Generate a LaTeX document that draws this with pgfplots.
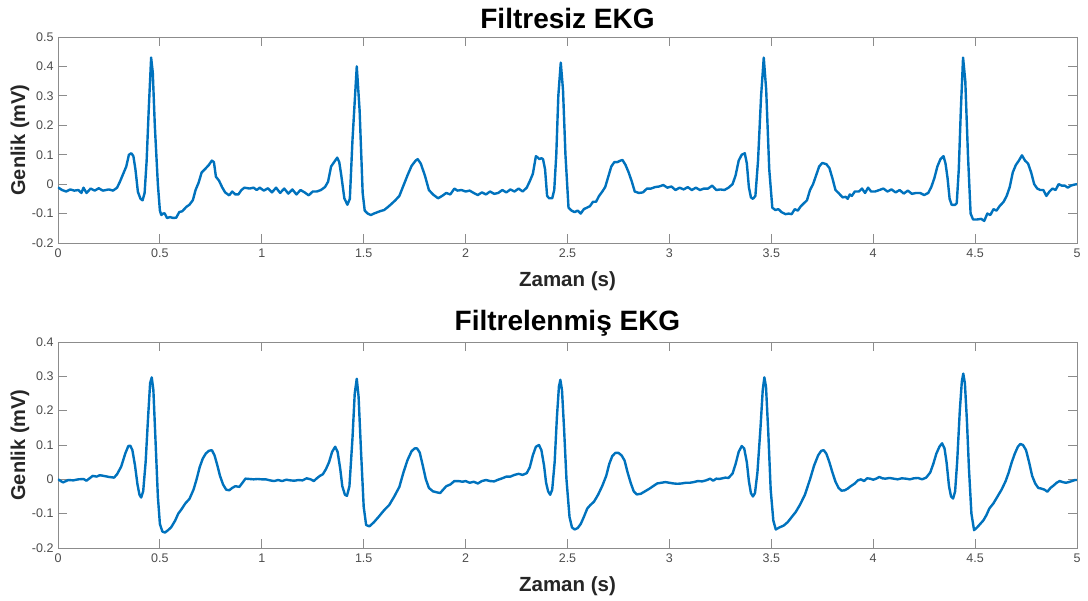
\documentclass[border=0pt]{standalone}
\usepackage{pgfplots}
\pgfplotsset{compat=1.18}
\usepackage{fontspec}
\setmainfont{Liberation Sans}
\definecolor{mblue}{rgb}{0,0.447,0.741}
\definecolor{axgray}{gray}{0.55}
\definecolor{tkgray}{gray}{0.3}
\definecolor{lbgray}{gray}{0.15}
\begin{document}
\begin{tikzpicture}[x=1pt,y=1pt]
\pgfplotsset{ekg/.style={
  scale only axis, width=1019pt, height=206pt,
  xmin=0, xmax=5,
  xtick={0,0.5,1,1.5,2,2.5,3,3.5,4,4.5,5},
  xticklabels={0,0.5,1,1.5,2,2.5,3,3.5,4,4.5,5},
  tick align=inside, major tick length=9pt,
  axis line style={axgray, line width=0.8pt},
  every tick/.style={axgray, line width=0.8pt},
  tick label style={font=\fontsize{12.5}{12.5}\selectfont, text=tkgray},
  xticklabel style={yshift=-2pt},
  yticklabel style={xshift=-1pt},
  xlabel={\fontsize{20.5}{22}\selectfont\bfseries Zaman (s)},
  ylabel={\fontsize{20}{22}\selectfont\bfseries Genlik (mV)},
  xlabel style={at={(axis description cs:0.5,0)}, anchor=center, yshift=-38pt, text=lbgray},
  ylabel style={at={(axis description cs:0,0.5)}, anchor=center, yshift=38pt, text=lbgray},
  title style={font=\fontsize{28}{30}\selectfont\bfseries, at={(axis description cs:0.5,1)}, anchor=center, yshift=13pt},
}}
\begin{axis}[ekg, at={(58pt,-243pt)}, anchor=south west,
  title={Filtresiz EKG},
  ymin=-0.2, ymax=0.5,
  ytick={-0.2,-0.1,0,0.1,0.2,0.3,0.4,0.5},
  yticklabels={-0.2,-0.1,0,0.1,0.2,0.3,0.4,0.5}]
\addplot[mblue, line width=2.4pt, line join=round, no markers] table {
0 -0.011
0.02 -0.02
0.04 -0.025
0.06 -0.018
0.08 -0.022
0.10 -0.02
0.115 -0.03
0.125 -0.012
0.14 -0.03
0.16 -0.015
0.18 -0.022
0.2 -0.014
0.22 -0.022
0.25 -0.018
0.27 -0.022
0.29 -0.012
0.305 0.01
0.32 0.035
0.335 0.06
0.348 0.1
0.36 0.105
0.37 0.095
0.38 0.05
0.392 -0.026
0.405 -0.05
0.415 -0.055
0.425 -0.03
0.435 0.08
0.445 0.25
0.457 0.43
0.465 0.38
0.475 0.2
0.49 0.0
0.5 -0.09
0.507 -0.105
0.515 -0.1
0.523 -0.099
0.535 -0.115
0.55 -0.112
0.565 -0.115
0.58 -0.114
0.595 -0.095
0.61 -0.092
0.63 -0.077
0.645 -0.07
0.662 -0.054
0.675 -0.02
0.69 0.005
0.705 0.04
0.72 0.05
0.74 0.065
0.755 0.08
0.765 0.075
0.775 0.025
0.79 0.012
0.805 -0.01
0.82 -0.028
0.84 -0.038
0.855 -0.025
0.87 -0.035
0.885 -0.035
0.9 -0.02
0.915 -0.012
0.94 -0.015
0.96 -0.012
0.975 -0.02
0.99 -0.012
1.01 -0.022
1.03 -0.014
1.05 -0.028
1.07 -0.012
1.09 -0.03
1.11 -0.015
1.13 -0.032
1.15 -0.018
1.17 -0.035
1.19 -0.02
1.21 -0.028
1.23 -0.038
1.25 -0.025
1.27 -0.025
1.29 -0.02
1.31 -0.01
1.325 0.008
1.34 0.06
1.355 0.075
1.37 0.09
1.38 0.075
1.39 0.03
1.405 -0.048
1.42 -0.07
1.432 -0.05
1.445 0.15
1.466 0.40
1.48 0.25
1.495 -0.03
1.505 -0.09
1.52 -0.1
1.535 -0.105
1.55 -0.1
1.565 -0.096
1.58 -0.092
1.6 -0.088
1.615 -0.08
1.635 -0.068
1.655 -0.055
1.675 -0.04
1.695 -0.005
1.715 0.03
1.735 0.062
1.755 0.08
1.765 0.085
1.78 0.07
1.8 0.03
1.82 -0.02
1.84 -0.035
1.865 -0.048
1.885 -0.04
1.905 -0.03
1.925 -0.035
1.945 -0.015
1.96 -0.022
1.98 -0.02
2.0 -0.025
2.02 -0.022
2.04 -0.03
2.06 -0.037
2.08 -0.028
2.1 -0.035
2.12 -0.025
2.14 -0.033
2.16 -0.03
2.18 -0.02
2.2 -0.028
2.22 -0.018
2.24 -0.025
2.26 -0.015
2.28 -0.025
2.3 -0.012
2.315 0.01
2.33 0.035
2.345 0.095
2.355 0.09
2.362 0.085
2.372 0.088
2.38 0.085
2.39 0.05
2.4 -0.04
2.41 -0.048
2.425 -0.048
2.435 -0.02
2.445 0.1
2.455 0.3
2.467 0.413
2.478 0.32
2.49 0.1
2.505 -0.08
2.52 -0.09
2.535 -0.095
2.55 -0.09
2.565 -0.1
2.58 -0.085
2.595 -0.08
2.61 -0.075
2.625 -0.06
2.64 -0.06
2.655 -0.04
2.67 -0.026
2.685 -0.01
2.7 0.025
2.715 0.06
2.73 0.075
2.745 0.075
2.76 0.08
2.77 0.082
2.785 0.065
2.8 0.04
2.815 0.01
2.83 -0.025
2.85 -0.03
2.87 -0.028
2.89 -0.015
2.91 -0.015
2.93 -0.01
2.95 -0.008
2.97 -0.003
2.99 -0.012
3.01 -0.008
3.03 -0.02
3.05 -0.012
3.07 -0.018
3.09 -0.01
3.11 -0.02
3.13 -0.012
3.15 -0.02
3.17 -0.015
3.19 -0.015
3.21 -0.005
3.23 -0.02
3.25 -0.018
3.27 -0.02
3.29 -0.012
3.31 0.0
3.325 0.03
3.34 0.08
3.355 0.1
3.37 0.105
3.38 0.07
3.39 -0.01
3.4 -0.045
3.41 -0.05
3.422 -0.04
3.435 0.08
3.45 0.3
3.463 0.43
3.475 0.32
3.49 0.05
3.505 -0.08
3.52 -0.088
3.535 -0.085
3.55 -0.095
3.57 -0.102
3.585 -0.1
3.6 -0.102
3.615 -0.085
3.63 -0.09
3.645 -0.075
3.66 -0.065
3.675 -0.055
3.69 -0.02
3.705 0.0
3.72 0.03
3.735 0.06
3.75 0.072
3.77 0.068
3.785 0.055
3.8 0.02
3.815 -0.02
3.83 -0.03
3.85 -0.045
3.865 -0.043
3.875 -0.05
3.885 -0.035
3.895 -0.04
3.91 -0.025
3.93 -0.025
3.945 -0.015
3.96 -0.03
3.975 -0.012
3.99 -0.025
4.01 -0.025
4.03 -0.02
4.05 -0.015
4.07 -0.025
4.09 -0.018
4.11 -0.028
4.13 -0.02
4.15 -0.032
4.17 -0.022
4.19 -0.033
4.21 -0.03
4.23 -0.03
4.25 -0.037
4.27 -0.03
4.285 -0.01
4.3 0.02
4.315 0.06
4.33 0.085
4.345 0.095
4.355 0.07
4.365 0.02
4.375 -0.05
4.385 -0.07
4.4 -0.071
4.41 -0.065
4.42 0.05
4.43 0.25
4.441 0.43
4.452 0.35
4.465 0.1
4.478 -0.1
4.49 -0.12
4.51 -0.12
4.53 -0.118
4.545 -0.125
4.56 -0.1
4.575 -0.105
4.59 -0.085
4.605 -0.09
4.62 -0.075
4.64 -0.06
4.655 -0.04
4.67 -0.01
4.685 0.04
4.7 0.065
4.715 0.08
4.73 0.098
4.745 0.08
4.76 0.07
4.775 0.04
4.79 0.0
4.805 -0.015
4.82 -0.02
4.835 -0.02
4.85 -0.04
4.865 -0.025
4.88 -0.015
4.895 -0.02
4.91 0.0
4.925 -0.005
4.94 -0.005
4.955 -0.012
4.97 -0.005
4.985 -0.002
5.0 0.0
};
\end{axis}
\begin{axis}[ekg, at={(58pt,-548pt)}, anchor=south west,
  title={Filtrelenmiş EKG},
  ymin=-0.2, ymax=0.4,
  ytick={-0.2,-0.1,0,0.1,0.2,0.3,0.4},
  yticklabels={-0.2,-0.1,0,0.1,0.2,0.3,0.4}]
\addplot[mblue, line width=2.4pt, line join=round, no markers] table {
0 0
0.025 -0.009
0.05 -0.002
0.075 -0.003
0.1 0.0
0.125 0.001
0.14 -0.004
0.155 0.003
0.17 0.01
0.19 0.008
0.205 0.012
0.225 0.01
0.25 0.007
0.275 0.005
0.29 0.015
0.31 0.037
0.33 0.075
0.345 0.097
0.355 0.098
0.365 0.085
0.378 0.04
0.39 -0.015
0.4 -0.045
0.408 -0.053
0.418 -0.035
0.43 0.05
0.442 0.18
0.452 0.28
0.46 0.297
0.468 0.26
0.478 0.12
0.49 -0.05
0.5 -0.13
0.512 -0.152
0.525 -0.155
0.54 -0.148
0.555 -0.14
0.575 -0.12
0.59 -0.1
0.605 -0.088
0.625 -0.07
0.645 -0.057
0.665 -0.03
0.68 0.0
0.695 0.035
0.71 0.06
0.725 0.075
0.74 0.083
0.755 0.085
0.768 0.07
0.78 0.045
0.795 0.01
0.81 -0.015
0.825 -0.03
0.84 -0.032
0.855 -0.025
0.87 -0.02
0.89 -0.022
0.905 -0.01
0.92 0.002
0.94 0.001
0.96 0.0
0.98 0.001
1.0 0.0
1.02 0.0
1.04 -0.003
1.06 -0.005
1.08 -0.002
1.1 -0.005
1.12 -0.001
1.14 -0.003
1.16 -0.004
1.18 -0.002
1.2 -0.003
1.22 0.003
1.24 0.0
1.255 -0.005
1.27 0.003
1.285 0.01
1.3 0.015
1.315 0.03
1.33 0.05
1.345 0.08
1.36 0.095
1.372 0.08
1.385 0.03
1.395 -0.02
1.408 -0.045
1.418 -0.048
1.43 -0.02
1.445 0.12
1.456 0.25
1.466 0.293
1.475 0.24
1.487 0.08
1.5 -0.08
1.512 -0.133
1.528 -0.137
1.55 -0.125
1.575 -0.108
1.6 -0.09
1.625 -0.075
1.65 -0.05
1.675 -0.022
1.695 0.02
1.715 0.056
1.735 0.082
1.75 0.09
1.762 0.09
1.775 0.078
1.79 0.04
1.805 0.0
1.82 -0.025
1.84 -0.035
1.86 -0.038
1.875 -0.04
1.89 -0.03
1.905 -0.02
1.925 -0.015
1.945 -0.005
1.965 -0.005
1.985 -0.007
2.0 -0.005
2.02 -0.01
2.04 -0.007
2.06 -0.012
2.08 -0.005
2.1 -0.002
2.12 -0.005
2.14 -0.006
2.16 -0.001
2.18 0.003
2.2 0.008
2.22 0.008
2.24 0.013
2.26 0.016
2.28 0.013
2.3 0.018
2.315 0.035
2.33 0.07
2.345 0.095
2.36 0.1
2.372 0.085
2.385 0.04
2.395 -0.01
2.405 -0.035
2.415 -0.045
2.425 -0.03
2.437 0.05
2.448 0.18
2.458 0.27
2.465 0.29
2.473 0.26
2.483 0.15
2.495 0.0
2.51 -0.11
2.522 -0.14
2.535 -0.146
2.55 -0.142
2.565 -0.13
2.58 -0.11
2.597 -0.085
2.612 -0.075
2.63 -0.065
2.65 -0.045
2.67 -0.02
2.69 0.01
2.705 0.045
2.72 0.068
2.735 0.077
2.75 0.077
2.765 0.07
2.78 0.055
2.795 0.02
2.81 -0.01
2.825 -0.035
2.84 -0.044
2.86 -0.042
2.88 -0.035
2.9 -0.028
2.92 -0.02
2.94 -0.012
2.96 -0.01
2.98 -0.008
3.0 -0.01
3.02 -0.012
3.04 -0.013
3.06 -0.012
3.08 -0.01
3.1 -0.01
3.12 -0.008
3.14 -0.005
3.16 -0.006
3.18 -0.003
3.2 0.002
3.215 -0.004
3.23 0.002
3.245 0.001
3.26 0.003
3.275 0.005
3.29 0.004
3.31 0.017
3.325 0.045
3.34 0.08
3.355 0.097
3.367 0.09
3.38 0.05
3.39 -0.005
3.4 -0.04
3.41 -0.05
3.42 -0.04
3.432 0.02
3.447 0.15
3.458 0.26
3.466 0.297
3.474 0.27
3.485 0.14
3.497 -0.03
3.51 -0.12
3.522 -0.146
3.54 -0.14
3.56 -0.135
3.58 -0.125
3.6 -0.11
3.62 -0.095
3.64 -0.075
3.665 -0.045
3.69 0.0
3.71 0.04
3.73 0.07
3.745 0.083
3.757 0.085
3.77 0.075
3.785 0.05
3.8 0.02
3.815 -0.007
3.83 -0.025
3.845 -0.033
3.86 -0.032
3.875 -0.027
3.89 -0.02
3.91 -0.012
3.925 -0.003
3.94 0.0
3.955 -0.005
3.97 0.003
3.985 0.002
4.0 -0.001
4.015 0.002
4.03 0.007
4.045 0.003
4.06 0.002
4.08 0.004
4.1 0.002
4.12 0.0
4.14 0.003
4.16 0.002
4.18 0.0
4.2 0.003
4.22 0.004
4.24 0.0
4.26 0.005
4.28 0.02
4.295 0.045
4.31 0.075
4.325 0.095
4.338 0.105
4.35 0.09
4.36 0.05
4.372 -0.02
4.382 -0.05
4.392 -0.056
4.402 -0.035
4.412 0.05
4.425 0.2
4.435 0.285
4.442 0.308
4.45 0.28
4.46 0.17
4.47 0.03
4.482 -0.1
4.495 -0.148
4.51 -0.14
4.525 -0.13
4.54 -0.12
4.555 -0.105
4.57 -0.085
4.59 -0.07
4.61 -0.05
4.63 -0.03
4.65 -0.005
4.665 0.02
4.68 0.05
4.695 0.075
4.71 0.095
4.722 0.103
4.735 0.1
4.75 0.085
4.765 0.05
4.78 0.01
4.795 -0.012
4.81 -0.025
4.825 -0.027
4.84 -0.03
4.855 -0.036
4.87 -0.025
4.885 -0.018
4.9 -0.01
4.915 -0.005
4.93 -0.008
4.945 -0.01
4.96 -0.008
4.975 -0.005
4.99 -0.002
5.0 -0.002
};
\end{axis}
\pgfresetboundingbox
\path[use as bounding box] (0,0) rectangle (1088,-601);
\end{tikzpicture}
\end{document}
